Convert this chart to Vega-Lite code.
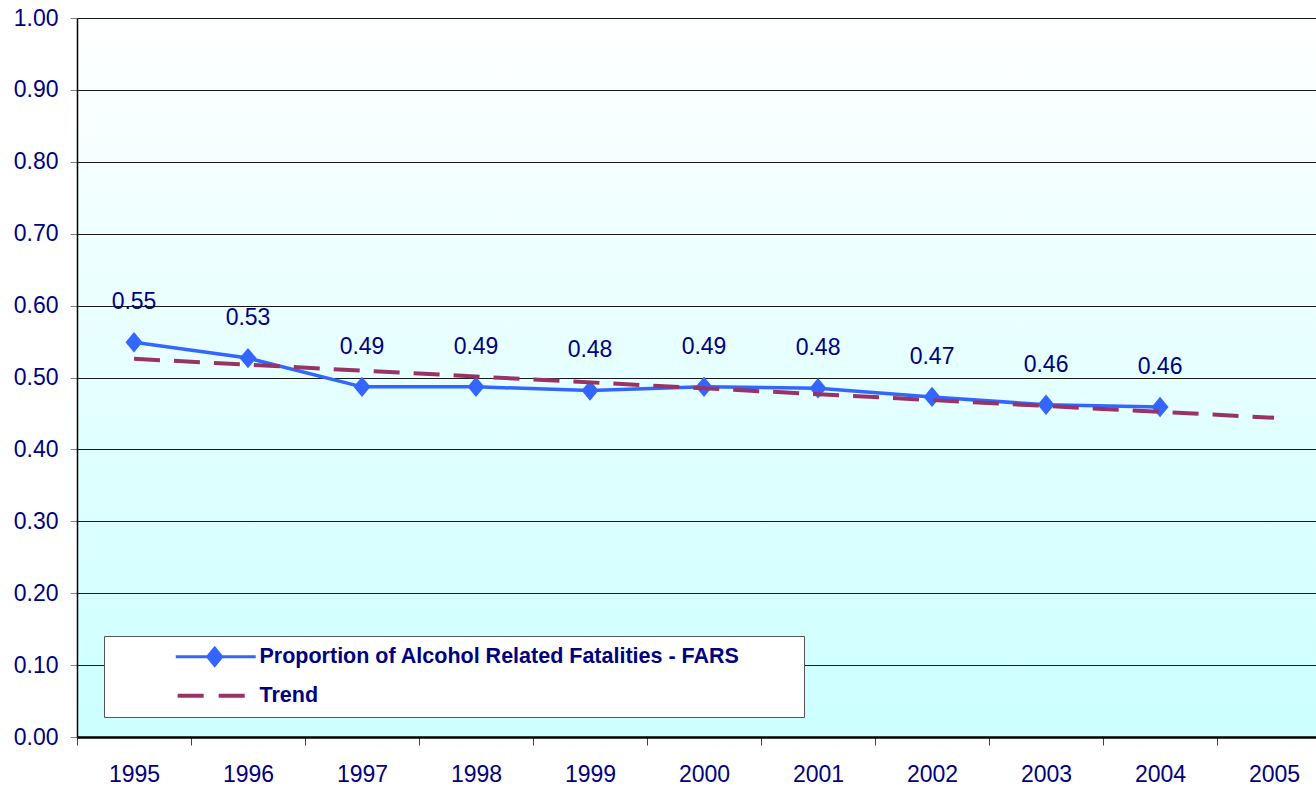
{
  "$schema": "https://vega.github.io/schema/vega-lite/v6.json",
  "width": 1239,
  "height": 719,
  "autosize": {"type": "none"},
  "padding": {"left": 77, "top": 18, "right": 0, "bottom": 52},
  "background": "white",
  "view": {
    "stroke": null,
    "fill": {"gradient": "linear", "x1": 0, "y1": 0, "x2": 0, "y2": 1, "stops": [{"offset": 0, "color": "#ffffff"}, {"offset": 1, "color": "#ccffff"}]}
  },
  "datasets": {
    "fars": [
      {"year": 1995, "value": 0.549},
      {"year": 1996, "value": 0.527},
      {"year": 1997, "value": 0.487},
      {"year": 1998, "value": 0.487},
      {"year": 1999, "value": 0.482},
      {"year": 2000, "value": 0.487},
      {"year": 2001, "value": 0.485},
      {"year": 2002, "value": 0.473},
      {"year": 2003, "value": 0.462},
      {"year": 2004, "value": 0.459}
    ],
    "trend": [
      {"year": 1995, "value": 0.526},
      {"year": 2005, "value": 0.444}
    ],
    "series": [
      {"series": "Proportion of Alcohol Related Fatalities - FARS"},
      {"series": "Trend"}
    ]
  },
  "layer": [
    {
      "data": {"name": "fars"},
      "mark": {"type": "line", "color": "#3366ff", "strokeWidth": 3.5},
      "encoding": {
        "x": {
          "field": "year", "type": "quantitative",
          "scale": {"domain": [1994.5, 2005.368], "nice": false, "zero": false},
          "axis": {
            "title": null,
            "values": [1994.5, 1995.5, 1996.5, 1997.5, 1998.5, 1999.5, 2000.5, 2001.5, 2002.5, 2003.5, 2004.5],
            "labelExpr": "format(datum.value + 0.5, 'd')",
            "labelOffset": 57,
            "labelFlush": false,
            "labelOverlap": false,
            "grid": false,
            "tickColor": "#404040",
            "tickSize": 8,
            "domainColor": "#000000",
            "domainWidth": 2.5,
            "labelPadding": 18,
            "labelFont": "Liberation Sans",
            "labelFontSize": 23,
            "labelColor": "#000080"
          }
        },
        "y": {
          "field": "value", "type": "quantitative",
          "scale": {"domain": [0, 1], "nice": false},
          "axis": {
            "title": null,
            "values": [0, 0.1, 0.2, 0.3, 0.4, 0.5, 0.6, 0.7, 0.8, 0.9, 1.0],
            "format": ".2f",
            "grid": true,
            "gridColor": "#1a1a1a",
            "gridWidth": 1,
            "domainColor": "#000000",
            "domainWidth": 1.5,
            "tickColor": "#808080",
            "tickSize": 7,
            "labelPadding": 12,
            "labelFont": "Liberation Sans",
            "labelFontSize": 23,
            "labelColor": "#000080"
          }
        }
      }
    },
    {
      "data": {"name": "fars"},
      "mark": {"type": "point", "shape": "M0,-1.2L1,0L0,1.2L-1,0Z", "size": 289, "filled": true, "color": "#3366ff", "opacity": 1, "strokeWidth": 0},
      "encoding": {
        "x": {"field": "year", "type": "quantitative"},
        "y": {"field": "value", "type": "quantitative"}
      }
    },
    {
      "data": {"name": "trend"},
      "mark": {"type": "line", "color": "#993366", "strokeWidth": 4, "strokeDash": [26, 14]},
      "encoding": {
        "x": {"field": "year", "type": "quantitative"},
        "y": {"field": "value", "type": "quantitative"}
      }
    },
    {
      "data": {"name": "fars"},
      "mark": {"type": "text", "dy": -40, "baseline": "middle", "font": "Liberation Sans", "fontSize": 23, "color": "#000080"},
      "encoding": {
        "x": {"field": "year", "type": "quantitative"},
        "y": {"field": "value", "type": "quantitative"},
        "text": {"field": "value", "type": "quantitative", "format": ".2f"}
      }
    },
    {
      "data": {"name": "series"},
      "mark": {"type": "point", "opacity": 0, "filled": true, "size": 1444},
      "encoding": {
        "color": {
          "field": "series", "type": "nominal",
          "scale": {"domain": ["Proportion of Alcohol Related Fatalities - FARS", "Trend"], "range": ["#3366ff", "#993366"]},
          "legend": {
            "title": null, "orient": "none", "legendX": 27, "legendY": 618,
            "fillColor": "#ffffff", "strokeColor": "#555555", "padding": 10, "rowPadding": 12,
            "symbolSize": 1444, "symbolOffset": 70, "labelOffset": 54,
            "labelFont": "Liberation Sans Narrow, Liberation Sans", "labelFontSize": 21.5, "labelFontWeight": "bold", "labelColor": "#000080", "labelLimit": 0,
            "labelExpr": "datum.label == 'Trend' ? datum.label : datum.label + '\u00a0\u00a0\u00a0\u00a0\u00a0\u00a0\u00a0\u00a0\u00a0\u200b'",
            "symbolOpacity": 1,
            "encode": {
              "symbols": {"update": {
                "fill": {"signal": "scale('color', datum.value)"},
                "stroke": {"signal": "scale('color', datum.value)"},
                "strokeWidth": {"signal": "datum.value == 'Trend' ? 4 : 3"},
                "opacity": {"value": 1},
                "size": {"value": 1444}
              }}
            }
          }
        },
        "shape": {
          "field": "series", "type": "nominal",
          "scale": {"domain": ["Proportion of Alcohol Related Fatalities - FARS", "Trend"], "range": ["M-1,0L3.21,0M1.05,-0.45L1.42,0L1.05,0.45L0.68,0Z", "M-0.9,0L0.47,0M1.26,0L2.63,0"]},
          "legend": {
            "title": null, "orient": "none", "legendX": 27, "legendY": 618
          }
        }
      }
    }
  ]
}
